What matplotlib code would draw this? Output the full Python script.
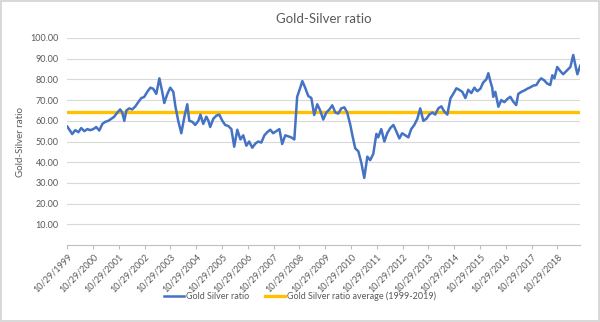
import matplotlib
matplotlib.use("Agg")
import matplotlib.pyplot as plt

# decimal year of each point
years = [
    1999.83, 1999.95, 2000.02, 2000.14, 2000.26, 2000.37, 2000.49, 2000.61, 2000.72, 2000.84,
    2000.95, 2001.07, 2001.19, 2001.30, 2001.42, 2001.54, 2001.65, 2001.77, 2001.88, 2001.96,
    2002.04, 2002.12, 2002.23, 2002.35, 2002.47, 2002.58, 2002.70, 2002.81, 2002.93, 2003.05,
    2003.16, 2003.28, 2003.40, 2003.51, 2003.59, 2003.71, 2003.82, 2003.94, 2004.02, 2004.13,
    2004.25, 2004.37, 2004.48, 2004.56, 2004.68, 2004.79, 2004.91, 2004.99, 2005.10, 2005.22,
    2005.30, 2005.37, 2005.49, 2005.61, 2005.72, 2005.84, 2005.95, 2006.07, 2006.19, 2006.30,
    2006.42, 2006.54, 2006.65, 2006.77, 2006.88, 2007.00, 2007.12, 2007.23, 2007.35, 2007.47,
    2007.58, 2007.70, 2007.81, 2007.93, 2008.05, 2008.16, 2008.28, 2008.40, 2008.51, 2008.63,
    2008.74, 2008.86, 2008.94, 2009.05, 2009.17, 2009.29, 2009.40, 2009.52, 2009.64, 2009.75,
    2009.87, 2009.99, 2010.10, 2010.22, 2010.33, 2010.45, 2010.57, 2010.68, 2010.80, 2010.88,
    2010.99, 2011.11, 2011.23, 2011.34, 2011.46, 2011.57, 2011.69, 2011.81, 2011.88, 2012.00,
    2012.12, 2012.23, 2012.35, 2012.47, 2012.58, 2012.70, 2012.81, 2012.93, 2013.05, 2013.16,
    2013.28, 2013.40, 2013.51, 2013.63, 2013.75, 2013.86, 2013.98, 2014.09, 2014.21, 2014.33,
    2014.44, 2014.56, 2014.68, 2014.79, 2014.91, 2015.02, 2015.14, 2015.26, 2015.37, 2015.49,
    2015.61, 2015.72, 2015.84, 2015.95, 2016.07, 2016.15, 2016.23, 2016.30, 2016.34, 2016.42,
    2016.54, 2016.65, 2016.77, 2016.88, 2017.00, 2017.12, 2017.23, 2017.31, 2017.43, 2017.54,
    2017.66, 2017.78, 2017.89, 2018.01, 2018.12, 2018.20, 2018.32, 2018.43, 2018.55, 2018.63,
    2018.71, 2018.82, 2018.94, 2019.05, 2019.17, 2019.33, 2019.44, 2019.52, 2019.60, 2019.71,
]

ratio = [
    57.2, 55.0, 53.6, 55.5, 54.5, 56.5, 55.0, 56.0, 55.5, 56.0,
    57.0, 55.3, 58.5, 59.5, 60.0, 61.0, 62.0, 64.0, 65.5, 64.0,
    60.0, 65.0, 66.0, 65.5, 67.0, 69.0, 71.0, 71.5, 74.0, 76.0,
    75.5, 73.0, 80.5, 74.0, 68.6, 73.0, 76.0, 74.0, 67.0, 60.0,
    54.0, 62.0, 68.0, 60.0, 59.5, 58.0, 60.0, 63.0, 58.5, 62.0,
    60.0, 57.0, 61.0, 62.5, 63.0, 60.0, 58.0, 57.5, 56.0, 47.5,
    55.7, 51.0, 53.0, 48.0, 50.0, 47.0, 49.0, 50.0, 49.5, 53.0,
    54.5, 55.7, 54.0, 55.0, 56.0, 48.8, 53.0, 52.5, 52.0, 51.0,
    71.6, 76.0, 79.2, 76.0, 72.0, 71.0, 62.8, 68.0, 64.8, 60.6,
    64.0, 65.5, 67.5, 64.0, 63.5, 66.0, 66.5, 64.0, 58.0, 53.0,
    46.7, 45.3, 39.6, 32.4, 42.7, 41.0, 44.0, 53.7, 52.0, 56.0,
    50.0, 54.0, 56.5, 58.0, 55.0, 51.5, 54.0, 53.0, 52.0, 56.0,
    58.0, 61.0, 66.0, 60.0, 61.0, 63.0, 64.0, 63.0, 66.0, 67.0,
    64.5, 63.0, 70.8, 73.0, 75.7, 75.0, 74.0, 71.0, 75.0, 73.4,
    76.0, 74.3, 75.5, 78.5, 80.0, 83.0, 79.0, 76.0, 71.6, 74.0,
    66.8, 70.0, 69.0, 70.5, 71.6, 69.2, 67.6, 73.0, 74.0, 74.6,
    75.5, 76.2, 77.0, 77.3, 79.5, 80.5, 79.5, 78.0, 77.3, 82.0,
    80.5, 86.0, 84.0, 82.5, 84.0, 86.0, 91.8, 87.0, 82.5, 86.6,
]

average = 64.3
tick_years = list(range(1999, 2019))
tick_labels = [f"10/29/{y}" for y in tick_years]

GRAY = "#595959"
plt.rcParams["font.family"] = ["Lato", "DejaVu Sans"]

fig = plt.figure(figsize=(6.0, 3.22), dpi=100)
fig.patch.set_edgecolor("#d9d9d9")
fig.patch.set_linewidth(1.5)
ax = fig.add_axes([0.112, 0.239, 0.855, 0.643])

ax.plot(years, ratio, color="#4472C4", linewidth=1.8, label="Gold Silver ratio", zorder=3)
ax.axhline(average, color="#FFC000", linewidth=2.4,
           label="Gold Silver ratio average (1999-2019)", zorder=2)

ax.set_xlim(years[0], years[-1])
ax.set_ylim(0, 100)
ax.set_yticks(range(10, 101, 10))
ax.set_yticklabels([f"{v:.2f}" for v in range(10, 101, 10)])
ax.grid(axis="y", color="#d9d9d9", linewidth=0.8)
ax.set_axisbelow(True)

ax.set_xticks([y + 0.827 for y in tick_years])
ax.set_xticklabels(tick_labels, rotation=45, ha="right", rotation_mode="anchor")
ax.tick_params(axis="x", length=3, color="#bfbfbf", labelsize=6.5, labelcolor=GRAY, pad=2)
ax.tick_params(axis="y", length=0, labelsize=6.5, labelcolor=GRAY, pad=6)

for s in ["top", "right", "left"]:
    ax.spines[s].set_visible(False)
ax.spines["bottom"].set_color("#bfbfbf")

ax.set_title("Gold-Silver ratio", fontsize=9.5, color=GRAY, pad=11)
ax.set_ylabel("Gold-Silver ratio", fontsize=7, color=GRAY, labelpad=4)

fig.legend(loc="lower center", bbox_to_anchor=(0.5, 0.04), ncol=2, frameon=False,
           fontsize=6.5, labelcolor=GRAY, handlelength=2.2, handletextpad=0.2,
           columnspacing=1.8)

fig.savefig("out.png", dpi=100)
